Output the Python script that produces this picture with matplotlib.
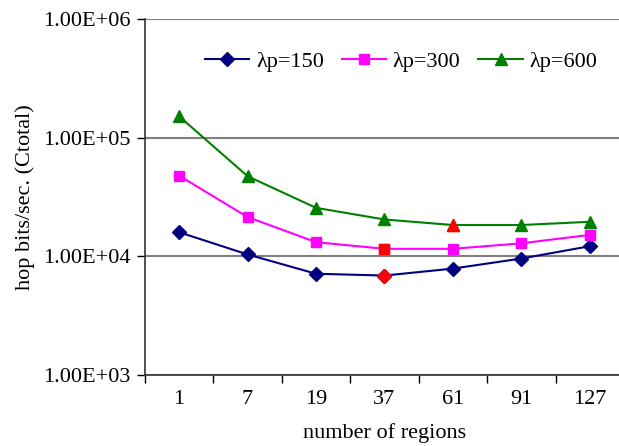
import math
import matplotlib.pyplot as plt
import matplotlib.ticker as mticker

plt.rcParams['font.family'] = ['Liberation Serif', 'DejaVu Serif']

regions = ['1', '7', '19', '37', '61', '91', '127']
lp150 = [16000, 10400, 7150, 6900, 7900, 9600, 12200]
lp300 = [48000, 21500, 13200, 11600, 11600, 12900, 15200]
lp600 = [152000, 47500, 25700, 20500, 18400, 18400, 19600]
# index of the lowest point of each series (drawn in red)
best = {'150': 3, '300': 3, '600': 4}

FS = 16

fig = plt.figure(figsize=(6.19, 4.46), dpi=100)
ax = fig.add_axes([0.234, 0.159, 0.774, 0.798])

x = list(range(len(regions)))
series = [
    (lp150, 'D', '#000080', 'λp=150', '150', 7),
    (lp300, 's', '#FF00FF', 'λp=300', '300', 7),
    (lp600, '^', '#008000', 'λp=600', '600', 8.5),
]
for vals, mk, col, lab, key, ms in series:
    ax.plot(x, vals, color=col, marker=mk, markersize=ms, lw=1.5,
            markeredgecolor=col, label=lab, zorder=3)
    i = best[key]
    ax.plot(x[i], vals[i], marker=mk, markersize=ms, color='#FF0000',
            markeredgecolor='#FF0000', linestyle='none', zorder=4)

ax.set_yscale('log')
ax.set_ylim(1e3, 1e6)
ax.set_xlim(-0.5, 6.5)
ax.set_xticks([i - 0.5 for i in range(len(regions) + 1)])
ax.set_xticklabels([])
ax.set_xticks(x, minor=True)
ax.set_xticklabels(regions, minor=True)
ax.tick_params(axis='x', which='minor', length=0, labelsize=FS, pad=11)
ax.tick_params(axis='x', which='major', length=6, width=1, direction='out')

ax.yaxis.set_major_locator(mticker.FixedLocator([1e3, 1e4, 1e5, 1e6]))
ax.yaxis.set_minor_locator(mticker.NullLocator())
ax.yaxis.set_major_formatter(mticker.FuncFormatter(
    lambda v, p: '1.00E+%02d' % round(math.log10(v))))
ax.tick_params(axis='y', length=6, width=1, direction='out', labelsize=FS, pad=4)

ax.grid(axis='y', which='major', color='#808080', lw=1.5)
ax.set_axisbelow(True)
for s in ['top', 'right']:
    ax.spines[s].set_visible(False)
for s in ['left', 'bottom']:
    ax.spines[s].set_color('#333333')
    ax.spines[s].set_linewidth(1.2)

ax.set_ylabel('hop bits/sec. (Ctotal)', fontsize=FS, labelpad=6)
ax.set_xlabel('number of regions', fontsize=FS, labelpad=10)

ax.legend(loc='upper center', bbox_to_anchor=(0.535, 0.965), ncol=3, frameon=False,
          fontsize=FS, handlelength=2.0, columnspacing=0.8, handletextpad=0.3)

fig.savefig('out.png', dpi=100)
